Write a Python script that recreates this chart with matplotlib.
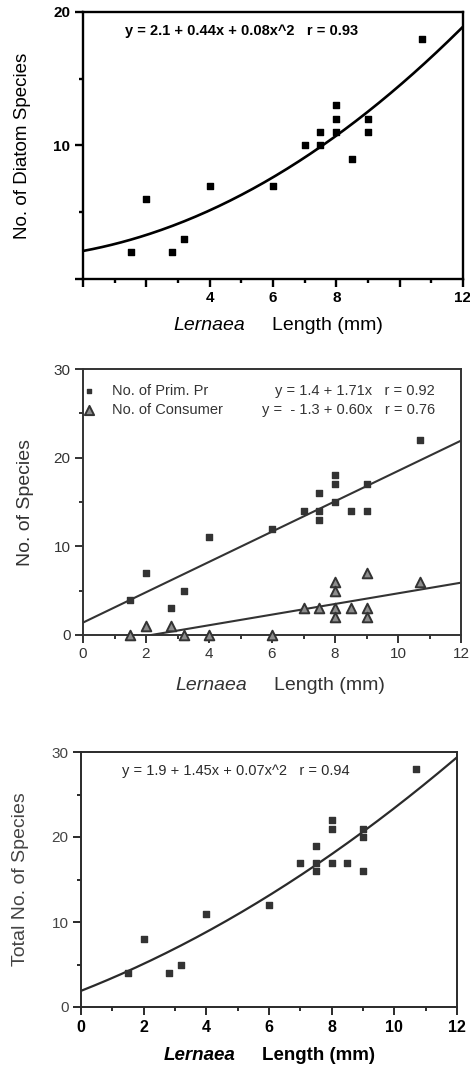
import numpy as np
import matplotlib.pyplot as plt
from matplotlib.ticker import MultipleLocator, FixedLocator

plt.rcParams['font.family'] = ['Liberation Sans', 'DejaVu Sans']

# --- panel 1: diatom species vs Lernaea length
diatom_x = [1.5, 2.0, 2.8, 3.2, 4.0, 6.0, 7.0, 7.5, 7.5, 8.0, 8.0, 8.0, 8.5, 9.0, 9.0, 10.7]
diatom_y = [2, 6, 2, 3, 7, 7, 10, 10, 11, 11, 12, 13, 9, 11, 12, 18]
diatom_fit = [2.1, 0.44, 0.08]

# --- panel 2: primary producers and consumers
prim_x = [1.5, 2.0, 2.8, 3.2, 4.0, 6.0, 7.0, 7.5, 7.5, 7.5, 8.0, 8.0, 8.0, 8.5, 9.0, 9.0, 10.7]
prim_y = [4, 7, 3, 5, 11, 12, 14, 16, 14, 13, 18, 17, 15, 14, 17, 14, 22]
prim_fit = [1.4, 1.71]
cons_x = [1.5, 2.0, 2.8, 3.2, 4.0, 6.0, 7.0, 7.5, 8.0, 8.0, 8.0, 8.0, 8.5, 9.0, 9.0, 9.0, 10.7]
cons_y = [0, 1, 1, 0, 0, 0, 3, 3, 6, 5, 3, 2, 3, 7, 3, 2, 6]
cons_fit = [-1.3, 0.60]

# --- panel 3: total species
total_x = [1.5, 2.0, 2.8, 3.2, 4.0, 6.0, 7.0, 7.5, 7.5, 7.5, 8.0, 8.0, 8.0, 8.5, 9.0, 9.0, 9.0, 10.7]
total_y = [4, 8, 4, 5, 11, 12, 17, 19, 17, 16, 22, 21, 17, 17, 21, 20, 16, 28]
total_fit = [1.9, 1.45, 0.07]

x_ticks = [0, 2, 4, 6, 8, 10, 12]

W, H = 470, 1066
fig = plt.figure(figsize=(W / 100, H / 100), dpi=100)


def box(l, t, r, b):
    return [l / W, 1 - b / H, (r - l) / W, (b - t) / H]


def style_axes(ax, color, lw=1.4):
    for s in ax.spines.values():
        s.set_color(color)
        s.set_linewidth(lw)
    ax.tick_params(which='both', direction='out', top=False, right=False,
                   color=color, width=lw, labelcolor=color)
    ax.tick_params(which='major', length=6, pad=3)
    ax.tick_params(which='minor', length=3)
    ax.xaxis.set_minor_locator(MultipleLocator(1))
    ax.yaxis.set_minor_locator(MultipleLocator(5))


def xlabel(y, x_split, color, bold=False, size=14):
    w = 'bold' if bold else 'normal'
    fig.text(x_split / W, 1 - y / H, 'Lernaea', ha='right', va='center',
             style='italic', fontweight=w, fontsize=size, color=color)
    fig.text((x_split + 27) / W, 1 - y / H, 'Length (mm)', ha='left', va='center',
             fontweight=w, fontsize=size, color=color)


xs = np.linspace(0, 12, 200)

# ---------------- panel 1
ax1 = fig.add_axes(box(83, 12, 463, 279))
c1 = 'black'
ax1.scatter(diatom_x, diatom_y, marker='s', s=24, color=c1, zorder=3)
ax1.plot(xs, np.polyval(diatom_fit[::-1], xs), color=c1, lw=1.9)
ax1.set_xlim(0, 12)
ax1.set_ylim(0, 20)
style_axes(ax1, c1, lw=1.7)
ax1.xaxis.set_major_locator(FixedLocator(x_ticks))
ax1.set_xticklabels(['', '', '4', '6', '8', '', '12'], fontweight='bold', fontsize=11)
ax1.yaxis.set_major_locator(FixedLocator([0, 10, 20]))
ax1.set_yticklabels(['', '10', '20'], fontweight='bold', fontsize=11)
ax1.text(0.11, 0.929, 'y = 2.1 + 0.44x + 0.08x^2   r = 0.93', transform=ax1.transAxes,
         fontweight='bold', fontsize=10.5, va='center', color=c1)
ax1.set_ylabel('No. of Diatom Species', fontsize=13.5, color=c1, labelpad=16)
xlabel(326, 245, c1, size=14)

# ---------------- panel 2
ax2 = fig.add_axes(box(83, 369, 461, 635))
c2 = '#333333'
tri_face = '#8c8c8c'
ax2.plot(xs, np.polyval(prim_fit[::-1], xs), color=c2, lw=1.5)
ax2.plot(xs, np.polyval(cons_fit[::-1], xs), color=c2, lw=1.5)
ax2.scatter(prim_x, prim_y, marker='s', s=14, color=c2, zorder=3, clip_on=False)
ax2.scatter(cons_x, cons_y, marker='^', s=48, facecolor=tri_face, edgecolor=c2,
            linewidth=1.4, zorder=3, clip_on=False)
ax2.set_xlim(0, 12)
ax2.set_ylim(0, 30)
style_axes(ax2, c2)
ax2.xaxis.set_major_locator(FixedLocator(x_ticks))
ax2.yaxis.set_major_locator(MultipleLocator(10))
ax2.tick_params(labelsize=11)

# legend rows drawn by hand, equations on the same rows
rows = [0.917, 0.846]
ax2.scatter([0.016], [rows[0]], marker='s', s=12, color=c2, transform=ax2.transAxes,
            clip_on=False, zorder=4)
ax2.scatter([0.016], [rows[1]], marker='^', s=44, facecolor=tri_face, edgecolor=c2,
            linewidth=1.4, transform=ax2.transAxes, clip_on=False, zorder=4)
ax2.text(0.077, rows[0], 'No. of Prim. Pr', transform=ax2.transAxes,
         va='center', fontsize=10.5, color=c2)
ax2.text(0.077, rows[1], 'No. of Consumer', transform=ax2.transAxes,
         va='center', fontsize=10.5, color=c2)
ax2.text(0.931, rows[0], 'y = 1.4 + 1.71x   r = 0.92', transform=ax2.transAxes,
         ha='right', va='center', fontsize=10.5, color=c2)
ax2.text(0.931, rows[1], 'y =  - 1.3 + 0.60x   r = 0.76', transform=ax2.transAxes,
         ha='right', va='center', fontsize=10.5, color=c2)
ax2.set_ylabel('No. of Species', fontsize=14, color=c2, labelpad=14)
xlabel(685, 247, c2, size=14)

# ---------------- panel 3
ax3 = fig.add_axes(box(81, 752, 457, 1007))
c3 = '#2a2a2a'
ax3.plot(xs, np.polyval(total_fit[::-1], xs), color=c3, lw=1.6)
ax3.scatter(total_x, total_y, marker='s', s=16, color='#333333', zorder=3)
ax3.set_xlim(0, 12)
ax3.set_ylim(0, 30)
style_axes(ax3, c3)
ax3.xaxis.set_major_locator(FixedLocator(x_ticks))
ax3.yaxis.set_major_locator(MultipleLocator(10))
ax3.tick_params(axis='y', labelsize=11, labelcolor='#444444')
for t in ax3.get_xticklabels():
    t.set_fontweight('bold')
    t.set_fontsize(11.5)
    t.set_color('black')
ax3.text(0.109, 0.925, 'y = 1.9 + 1.45x + 0.07x^2   r = 0.94', transform=ax3.transAxes,
         va='center', fontsize=10.5, color=c3)
ax3.set_ylabel('Total No. of Species', fontsize=14, color='#444444', labelpad=16)
xlabel(1055, 235, 'black', bold=True, size=13.5)

fig.savefig('out.png', dpi=100)
